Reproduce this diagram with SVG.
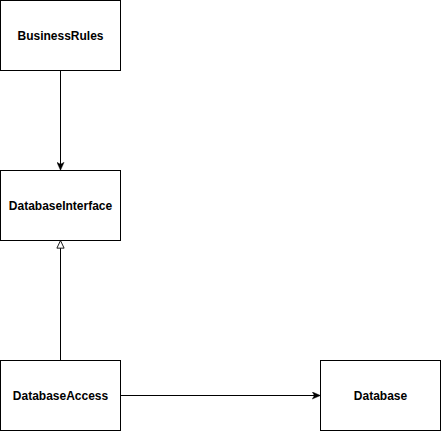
<svg xmlns="http://www.w3.org/2000/svg" width="441" height="431" viewBox="0 0 441 431">
<style>
.box{fill:#fff;stroke:#000;stroke-width:1}
.lbl{font-family:"Liberation Sans",Arial,sans-serif;font-size:12px;font-weight:bold;fill:#000;text-anchor:middle;dominant-baseline:central}
.edge{fill:none;stroke:#000;stroke-width:1}
</style>
<defs>
<marker id="classic" viewBox="0 0 10 10" refX="9" refY="5" markerWidth="8" markerHeight="8" markerUnits="userSpaceOnUse" orient="auto">
<path d="M0,0.5 L10,5 L0,9.5 L2.5,5 Z" fill="#000" stroke="#000" stroke-width="0.5"/>
</marker>
<marker id="open" viewBox="0 0 10 10" refX="9.5" refY="5" markerWidth="9" markerHeight="9" markerUnits="userSpaceOnUse" orient="auto">
<path d="M1,1 L9.5,5 L1,9 Z" fill="#fff" stroke="#000" stroke-width="1"/>
</marker>
</defs>
<g id="edges">
<path class="edge" d="M60.5,70.5 L60.5,169.5" marker-end="url(#classic)"/>
<path class="edge" d="M60.5,360.5 L60.5,240.5" marker-end="url(#open)"/>
<path class="edge" d="M120.5,395.5 L319.5,395.5" marker-end="url(#classic)"/>
</g>
<g id="BusinessRules">
<rect class="box" x="0.5" y="0.5" width="120" height="70"/>
<text class="lbl" x="60.5" y="36">BusinessRules</text>
</g>
<g id="DatabaseInterface">
<rect class="box" x="0.5" y="170.5" width="120" height="70"/>
<text class="lbl" x="60.5" y="206">DatabaseInterface</text>
</g>
<g id="DatabaseAccess">
<rect class="box" x="0.5" y="360.5" width="120" height="70"/>
<text class="lbl" x="60.5" y="396">DatabaseAccess</text>
</g>
<g id="Database">
<rect class="box" x="320.5" y="360.5" width="120" height="70"/>
<text class="lbl" x="380.5" y="396">Database</text>
</g>
</svg>
